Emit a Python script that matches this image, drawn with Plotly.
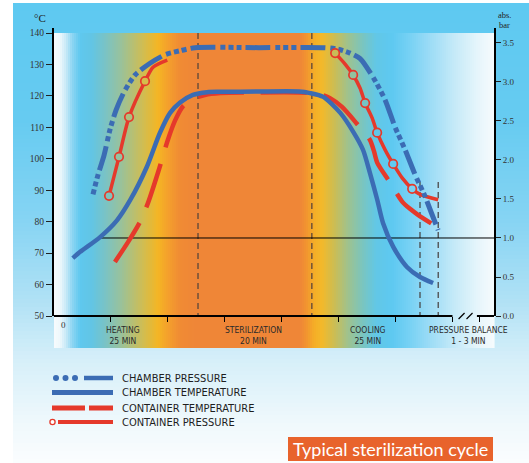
import plotly.graph_objects as go

# ---------------- data ----------------
# x = position on the time axis, in tick units (one tick = one unit)
chamber_temp_x = [0.33, 0.46, 0.81, 1.11, 1.34, 1.63, 1.86, 2.04, 2.21, 2.44, 2.69, 2.92, 3.60, 4.30,
                  4.50, 4.73, 5.03, 5.26, 5.43, 5.55, 5.68, 5.78, 5.96, 6.20, 6.43, 6.66]
chamber_temp_c = [68.4, 70.4, 75.1, 80.5, 86.9, 97.4, 108.2, 114.6, 117.8, 120.3, 121.2, 121.3, 121.4, 121.4,
                  120.9, 119.7, 114.6, 108.5, 102.8, 95.5, 86.9, 79.6, 72.0, 65.6, 62.4, 60.5]

container_temp_x = [1.07, 1.30, 1.51, 1.65, 1.83, 2.00, 2.13, 2.27, 2.44, 2.65, 2.92, 3.60, 4.30,
                    4.62, 4.85, 5.06, 5.31, 5.55, 5.62, 5.68, 5.91, 6.12, 6.26, 6.40, 6.73]
container_temp_c = [67.2, 73.5, 79.9, 85.9, 95.8, 106.0, 112.3, 116.8, 119.0, 120.3, 120.9, 121.1, 121.1,
                    120.8, 119.3, 116.5, 111.4, 106.0, 102.5, 98.7, 92.3, 86.3, 84.0, 82.1, 78.3]

chamber_press_x = [0.685, 0.773, 0.879, 0.984, 1.090, 1.230, 1.424, 1.687, 1.951, 2.214, 2.478, 3.600,
                   4.763, 4.991, 5.202, 5.378, 5.606, 5.817, 5.993, 6.169, 6.362, 6.503, 6.626, 6.749]
chamber_press_bar = [1.56, 1.81, 2.06, 2.39, 2.64, 2.87, 3.09, 3.24, 3.35, 3.40, 3.44, 3.44,
                     3.44, 3.42, 3.37, 3.30, 3.06, 2.77, 2.42, 2.13, 1.78, 1.56, 1.33, 1.10]

# container pressure: hidden under the chamber-pressure plateau (None = gap)
container_press_x = [0.967, 1.142, 1.318, 1.599, 1.740, 1.990, None,
                     4.939, 5.114, 5.255, 5.378, 5.466, 5.589, 5.677, 5.817, 5.958, 6.116, 6.292, 6.432, 6.749]
container_press_bar = [1.54, 2.04, 2.55, 3.01, 3.19, 3.28, None,
                       3.37, 3.23, 3.09, 2.92, 2.73, 2.54, 2.35, 2.13, 1.95, 1.77, 1.63, 1.56, 1.49]
container_press_circle_idx = [0, 1, 2, 3, 7, 9, 11, 13, 15, 17]

phase_bounds_x = [2.53, 4.53]          # heating | sterilization | cooling
balance_bounds_x = [6.43, 6.75]        # pressure balance markers
balance_bounds_top_c = 92.6
one_bar_start_x = 0.79
one_bar_level = 1.0

temp_ticks = [50, 60, 70, 80, 90, 100, 110, 120, 130, 140]
press_ticks = [0.0, 0.5, 1.0, 1.5, 2.0, 2.5, 3.0, 3.5]
time_ticks = [1, 2, 3, 4, 5, 6, 7, 7.47]
x_axis_end = 7.73
break_x = [7.16, 7.30]

phase_labels = ["HEATING<br>25 MIN", "STERILIZATION<br>20 MIN", "COOLING<br>25 MIN", "PRESSURE BALANCE<br>1 - 3 MIN"]
phase_label_x = [1.21, 3.50, 5.52, 7.28]

legend_labels = ["CHAMBER PRESSURE", "CHAMBER TEMPERATURE", "CONTAINER TEMPERATURE", "CONTAINER PRESSURE"]
title_text = "Typical sterilization cycle"

# ---------------- geometry / style ----------------
W, H = 529, 463
L, R, T, B = 54, 35, 28, 147
PW, PH = W - L - R, H - T - B
X_RANGE = [0, x_axis_end]
Y_RANGE = [50, 141.6]
Y2_RANGE = [0, 3.692]

BLUE = "#3b6cb4"
RED = "#e5392b"
NARROW = "Liberation Sans Narrow, DejaVu Sans Condensed, Arial Narrow, sans-serif"
SERIF = "Liberation Serif, DejaVu Serif, serif"

band_stops = [(54, "#f7fbfd"), (60, "#eef8fc"), (66, "#c7e9f7"), (72, "#8fd6f3"), (80, "#5fc8ef"),
              (92, "#62c5e4"), (105, "#79c3c6"), (120, "#97c29e"), (135, "#bcbf6c"), (148, "#dcbb42"),
              (158, "#f4b524"), (168, "#f4a02c"), (180, "#f08b34"), (195, "#ef8637"), (300, "#ef8637"),
              (306, "#f19330"), (314, "#f5ad27"), (322, "#f3b92a"), (334, "#cdbd52"), (348, "#9fc28e"),
              (362, "#7bc5bd"), (376, "#62c7e6"), (392, "#5ec9f1"), (410, "#77d1f4"), (430, "#9cdcf6"),
              (455, "#c6eaf8"), (478, "#e6f5fb"), (494, "#f6fbfd")]
outer_stops = [(3, "#5ec9f1"), (120, "#66cbf1"), (220, "#86d4f3"), (300, "#b0e1f5"),
               (360, "#d6eff9"), (420, "#eef8fc"), (463, "#fbfdfe")]


def hex2rgb(h):
    h = h.lstrip('#')
    return tuple(int(h[i:i + 2], 16) for i in (0, 2, 4))


def color_at(stops, v):
    if v <= stops[0][0]:
        return stops[0][1]
    for (p0, c0), (p1, c1) in zip(stops, stops[1:]):
        if p0 <= v <= p1:
            t = (v - p0) / (p1 - p0) if p1 > p0 else 0
            a, b = hex2rgb(c0), hex2rgb(c1)
            return "rgb(%d,%d,%d)" % tuple(round(a[i] + (b[i] - a[i]) * t) for i in range(3))
    return stops[-1][1]


def prect(x0, y0, x1, y1, **kw):
    """rectangle in figure pixels (y downwards)"""
    return dict(type='rect', xref='paper', yref='paper', xsizemode='pixel', ysizemode='pixel',
                xanchor=0, yanchor=0, x0=x0 - L, x1=x1 - L, y0=(H - B) - y0, y1=(H - B) - y1, **kw)


def pline(x0, y0, x1, y1, **kw):
    return dict(type='line', xref='paper', yref='paper', xsizemode='pixel', ysizemode='pixel',
                xanchor=0, yanchor=0, x0=x0 - L, x1=x1 - L, y0=(H - B) - y0, y1=(H - B) - y1, **kw)


def pcircle(cx, cy, r, **kw):
    return dict(type='circle', xref='paper', yref='paper', xsizemode='pixel', ysizemode='pixel',
                xanchor=0, yanchor=0, x0=cx - r - L, x1=cx + r - L, y0=(H - B) - (cy - r), y1=(H - B) - (cy + r), **kw)


def pann(px, py, text, **kw):
    return dict(x=(px - L) / PW, y=(H - B - py) / PH, xref='paper', yref='paper', text=text,
                showarrow=False, **kw)


shapes = []
# outer background (vertical gradient)
step = 4
for py in range(3, H, step):
    shapes.append(prect(13, py, W, py + step + 0.8, fillcolor=color_at(outer_stops, py + step / 2),
                        line=dict(width=0), layer='below'))
# phase band (horizontal gradient)
step = 2
for px in range(54, 494, step):
    shapes.append(prect(px, 33, px + step + 0.6, 348, fillcolor=color_at(band_stops, px + step / 2),
                        line=dict(width=0), layer='below'))

# phase boundaries
for xb in phase_bounds_x:
    shapes.append(dict(type='line', xref='x', yref='y', x0=xb, x1=xb, y0=temp_ticks[-1], y1=Y_RANGE[0],
                       line=dict(color='#5a463a', width=1.3, dash='6px,4px'), layer='below'))
for xb in balance_bounds_x:
    shapes.append(dict(type='line', xref='x', yref='y', x0=xb, x1=xb, y0=balance_bounds_top_c, y1=Y_RANGE[0],
                       line=dict(color='#4a4a4a', width=1.3, dash='6px,4px'), layer='below'))
# 1 bar reference line
shapes.append(dict(type='line', xref='x', yref='y2', x0=one_bar_start_x, x1=x_axis_end, y0=one_bar_level,
                   y1=one_bar_level, line=dict(color='black', width=1), layer='below'))
# broken time axis
shapes.append(dict(type='line', xref='x', yref='paper', x0=0, x1=7.0, y0=0, y1=0,
                   line=dict(color='black', width=2), layer='above'))
shapes.append(dict(type='line', xref='x', yref='paper', x0=7.43, x1=x_axis_end, y0=0, y1=0,
                   line=dict(color='black', width=2), layer='above'))
for bx in break_x:
    shapes.append(dict(type='line', xref='x', yref='paper', xsizemode='pixel', ysizemode='pixel',
                       xanchor=bx, yanchor=0, x0=-3, x1=3, y0=-3, y1=3,
                       line=dict(color='black', width=1.2), layer='above'))

# legend symbols
rows = [378, 392.5, 408, 422]
for cx in (56, 65.5, 75):
    shapes.append(pcircle(cx, rows[0], 3, fillcolor=BLUE, line=dict(width=0)))
shapes.append(pline(84, rows[0], 113, rows[0], line=dict(color=BLUE, width=4.5)))
shapes.append(pline(52, rows[1], 113, rows[1], line=dict(color=BLUE, width=5)))
shapes.append(pline(52, rows[2], 85, rows[2], line=dict(color=RED, width=5)))
shapes.append(pline(89, rows[2], 113, rows[2], line=dict(color=RED, width=5)))
shapes.append(pcircle(52.5, rows[3], 2.6, fillcolor='white', line=dict(color=RED, width=1.3)))
shapes.append(pline(58, rows[3], 113, rows[3], line=dict(color=RED, width=4)))

# title box
shapes.append(prect(288, 437, 493, 461, fillcolor="#e8632c", line=dict(width=0)))

annotations = []
for lab, y in zip(legend_labels, rows):
    annotations.append(pann(120, y, lab, xanchor='left', yanchor='middle',
                            font=dict(family=NARROW, size=11, color='#1e1e1e')))
annotations.append(pann(390.5, 449, title_text, xanchor='center', yanchor='middle',
                        font=dict(family="Lato, Open Sans, sans-serif", size=18, color='white')))
annotations.append(pann(40, 18, "°C", xanchor='center', yanchor='middle',
                        font=dict(family=SERIF, size=11, color='#222')))
annotations.append(pann(504, 15, "abs.", xanchor='center', yanchor='middle',
                        font=dict(family=SERIF, size=8.5, color='#222')))
annotations.append(pann(504, 24.5, "bar", xanchor='center', yanchor='middle',
                        font=dict(family=SERIF, size=8.5, color='#222')))
annotations.append(pann(63, 325, "0", xanchor='center', yanchor='middle',
                        font=dict(family=SERIF, size=9, color='#333')))
for lab, lx in zip(phase_labels, phase_label_x):
    annotations.append(dict(x=lx, y=0, xref='x', yref='paper', yshift=-19, text=lab, showarrow=False,
                            xanchor='center', yanchor='middle',
                            font=dict(family=NARROW, size=8.5, color='#2a2a2a')))

# circle marker fill = local background so circles look open
circle_x = [container_press_x[i] for i in container_press_circle_idx]
circle_y = [container_press_bar[i] for i in container_press_circle_idx]
circle_fill = [color_at(band_stops, L + (cx - X_RANGE[0]) / (X_RANGE[1] - X_RANGE[0]) * PW) for cx in circle_x]

fig = go.Figure()
fig.add_trace(go.Scatter(x=container_temp_x, y=container_temp_c, mode='lines', name=legend_labels[2],
                         line=dict(color=RED, width=4.5, dash='46px,17px', shape='spline', smoothing=0.7)))
fig.add_trace(go.Scatter(x=chamber_temp_x, y=chamber_temp_c, mode='lines', name=legend_labels[1],
                         line=dict(color=BLUE, width=4.5, shape='spline', smoothing=0.7)))
fig.add_trace(go.Scatter(x=container_press_x, y=container_press_bar, mode='lines', name=legend_labels[3],
                         yaxis='y2', connectgaps=False,
                         line=dict(color=RED, width=3.5, shape='spline', smoothing=0.7)))
fig.add_trace(go.Scatter(x=chamber_press_x, y=chamber_press_bar, mode='lines', name=legend_labels[0],
                         yaxis='y2',
                         line=dict(color=BLUE, width=5, shape='spline', smoothing=0.7,
                                   dash='5px,3px,5px,3px,5px,4px,25px,5px')))
fig.add_trace(go.Scatter(x=circle_x, y=circle_y, mode='markers', yaxis='y2', showlegend=False,
                         hoverinfo='skip',
                         marker=dict(symbol='circle', size=8.5, color=circle_fill,
                                     line=dict(color=RED, width=1.7))))

fig.update_layout(
    width=W, height=H, margin=dict(l=L, r=R, t=T, b=B, pad=0),
    paper_bgcolor='white', plot_bgcolor='rgba(0,0,0,0)', showlegend=False,
    xaxis=dict(range=X_RANGE, showgrid=False, zeroline=False, showline=False,
               tickmode='array', tickvals=time_ticks, ticks='outside', ticklen=5, tickwidth=1.3,
               tickcolor='black', showticklabels=False, fixedrange=True),
    yaxis=dict(range=Y_RANGE, tickmode='array', tickvals=temp_ticks, ticks='outside', ticklen=6,
               tickwidth=1, tickcolor='#222', showline=True, linecolor='black', linewidth=2,
               showgrid=False, zeroline=False, fixedrange=True,
               tickfont=dict(family=SERIF, size=9.5, color='#333')),
    yaxis2=dict(range=Y2_RANGE, overlaying='y', side='right', tickmode='array', tickvals=press_ticks,
                ticktext=["%.1f" % v for v in press_ticks], ticks='outside', ticklen=5, tickwidth=1,
                tickcolor='#222', showline=True, linecolor='black', linewidth=2, showgrid=False,
                zeroline=False, fixedrange=True, tickfont=dict(family=SERIF, size=9, color='#333')),
    shapes=shapes, annotations=annotations,
)

fig.write_html("out.html", config={'displayModeBar': False},
               post_script="document.body.style.margin='0';")
